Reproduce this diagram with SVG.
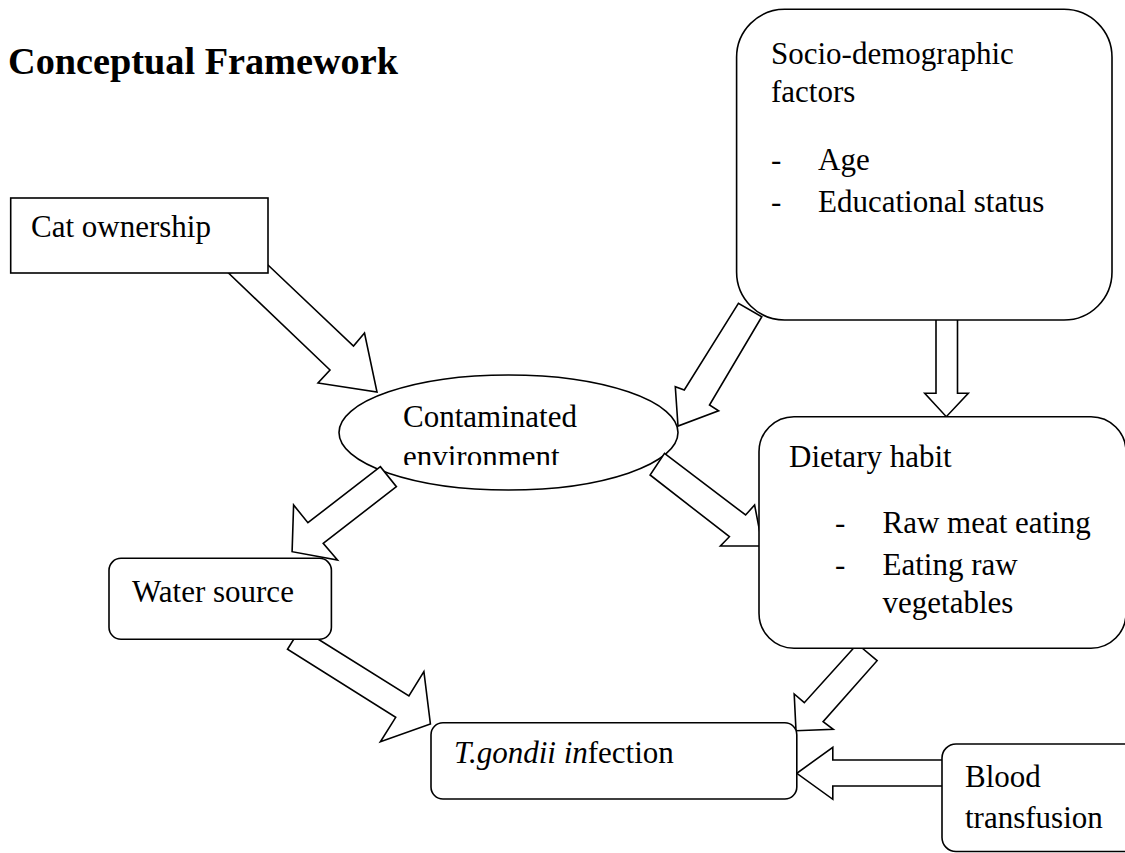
<svg xmlns="http://www.w3.org/2000/svg" width="1125" height="853" viewBox="0 0 1125 853">
  <style>
    .box { fill: #ffffff; stroke: #000000; stroke-width: 1.6; }
    .arrow { fill: #ffffff; stroke: #000000; stroke-width: 1.6; stroke-linejoin: miter; }
    .t { font-family: "Liberation Serif", "Times New Roman", serif; font-size: 31px; fill: #000000; }
    .it { font-style: italic; }
    .title { font-family: "Liberation Serif", "Times New Roman", serif; font-size: 38px; font-weight: bold; fill: #000000; }
  </style>
  <defs>
    <clipPath id="ellipseTextClip">
      <rect x="340" y="380" width="330" height="85"/>
    </clipPath>
  </defs>
  <rect width="1125" height="853" fill="#ffffff"/>

  <text class="title" x="8" y="74" textLength="390" lengthAdjust="spacingAndGlyphs">Conceptual Framework</text>

  <g id="node-contaminated-environment">
    <ellipse class="box" cx="508.5" cy="432.5" rx="169.5" ry="57.5"/>
    <g clip-path="url(#ellipseTextClip)">
      <text class="t" x="403" y="427">Contaminated</text>
      <text class="t" x="403" y="467">environment</text>
    </g>
  </g>

  <g id="connectors">
    <polygon id="arrow-cat-to-env" class="arrow" points="268,265 353.5,346 364.5,333 377,392 318,383 330,370 228.5,273"/>
    <polygon id="arrow-socio-to-env" class="arrow" points="738.4,303.3 684.3,390 675.3,386.7 678,426 718.6,410.7 709.5,405 761.8,316.7"/>
    <polygon id="arrow-socio-to-diet" class="arrow" points="936,314 957.5,314 957.5,393.3 968.3,393.3 946.3,416.7 924.7,393.3 936,393.3"/>
    <polygon id="arrow-env-to-diet" class="arrow" points="664.5,453.3 745.6,515 754.6,505 762.5,546 720.4,546 729.4,536.7 650.1,475"/>
    <polygon id="arrow-env-to-water" class="arrow" points="380.4,466.7 307.9,522.7 293.6,505 292.1,551.7 337.5,560 323.2,543.3 396.4,486.7"/>
    <polygon id="arrow-water-to-tg" class="arrow" points="300.7,628.2 408.9,696 423.9,671.7 430.4,724 380.4,741.7 395.7,717.3 287.5,649.3"/>
    <polygon id="arrow-diet-to-tg" class="arrow" points="857.3,644 804.3,702.7 794.2,694 796,730.7 833.2,729.3 823.1,721.7 877.1,660.7"/>
    <polygon id="arrow-blood-to-tg" class="arrow" points="950,760 832.8,760 832.8,747.3 796.8,773.3 832.8,799.3 832.8,786 950,786"/>
  </g>

  <g id="node-cat-ownership">
    <rect class="box" x="10.7" y="198" width="257.3" height="75"/>
    <text class="t" x="31" y="237">Cat ownership</text>
  </g>

  <g id="node-socio-demographic">
    <rect class="box" x="736.6" y="9.3" width="375.4" height="310.7" rx="48" ry="48"/>
    <text class="t" x="771" y="64">Socio-demographic</text>
    <text class="t" x="771" y="102">factors</text>
    <text class="t" x="771" y="170">-</text>
    <text class="t" x="818" y="170">Age</text>
    <text class="t" x="771" y="212">-</text>
    <text class="t" x="818" y="212">Educational status</text>
  </g>

  <g id="node-dietary-habit">
    <rect class="box" x="759" y="416.7" width="367" height="231.6" rx="35" ry="35"/>
    <text class="t" x="789" y="467">Dietary habit</text>
    <text class="t" x="835" y="533">-</text>
    <text class="t" x="882.5" y="533">Raw meat eating</text>
    <text class="t" x="835" y="575">-</text>
    <text class="t" x="882.5" y="575">Eating raw</text>
    <text class="t" x="882.5" y="613">vegetables</text>
  </g>

  <g id="node-water-source">
    <rect class="box" x="109" y="558.3" width="222.4" height="81" rx="12" ry="12"/>
    <text class="t" x="132" y="602">Water source</text>
  </g>

  <g id="node-tgondii-infection">
    <rect class="box" x="431" y="722.7" width="365.8" height="76.3" rx="12" ry="12"/>
    <text class="t" x="454" y="763"><tspan class="it">T.gondii in</tspan>fection</text>
  </g>

  <g id="node-blood-transfusion">
    <rect class="box" x="942" y="744" width="200" height="107.5" rx="14" ry="14"/>
    <text class="t" x="965" y="787">Blood</text>
    <text class="t" x="965" y="828">transfusion</text>
  </g>
</svg>
